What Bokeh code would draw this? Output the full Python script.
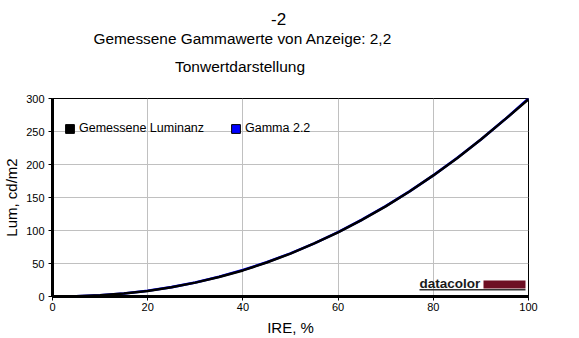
from bokeh.plotting import figure
from bokeh.models import (Range1d, Label, BoxAnnotation, Legend, LegendItem,
                          FixedTicker, ColumnDataSource, Title)
from bokeh.embed import file_html
from bokeh.resources import INLINE

# ---- data ----
ire = [0, 5, 10, 15, 20, 25, 30, 35, 40, 45, 50, 55, 60, 65, 70, 75, 80, 85, 90, 95, 100]
gemessene_luminanz = [0.0, 0.5, 1.9, 4.5, 8.5, 14.0, 21.0, 29.5, 39.5, 51.5, 65.0,
                      80.5, 97.0, 116.0, 136.5, 159.0, 183.5, 209.5, 238.0, 268.0, 299.0]
gamma_22 = [0.0, 0.4, 1.9, 4.6, 8.7, 14.2, 21.2, 29.8, 40.0, 51.8, 65.3,
            80.5, 97.5, 116.3, 136.9, 159.3, 183.6, 209.8, 237.9, 268.0, 300.0]
x_ticks = [0, 20, 40, 60, 80, 100]
y_ticks = [0, 50, 100, 150, 200, 250, 300]

title_main = "-2"
title_sub = "Gemessene Gammawerte von Anzeige: 2,2"
title_sub2 = "Tonwertdarstellung"
x_label = "IRE, %"
y_label = "Lum, cd/m2"
series_names = ["Gemessene Luminanz", "Gamma 2.2"]

FONT = "Liberation Sans"
NAN = float("nan")

p = figure(width=579, height=338, output_backend="svg", toolbar_location=None,
           x_range=Range1d(0, 100), y_range=Range1d(0, 300),
           min_border_left=52, min_border_right=51, min_border_top=98,
           min_border_bottom=41, background_fill_color="white",
           border_fill_color="white")

p.outline_line_color = "black"
p.outline_line_width = 1

for ax in (p.xaxis[0], p.yaxis[0]):
    ax.axis_line_width = 3
    ax.axis_line_color = "black"
    ax.major_tick_out = 4
    ax.major_tick_in = 0
    ax.minor_tick_out = 0
    ax.minor_tick_in = 0
    ax.major_tick_line_color = "black"
    ax.major_label_text_font = FONT
    ax.major_label_text_font_size = "11px"
    ax.major_label_text_color = "black"
    ax.axis_label_text_font = FONT
    ax.axis_label_text_font_size = "15px"
    ax.axis_label_text_font_style = "normal"
    ax.axis_label_text_color = "black"

p.xaxis[0].ticker = FixedTicker(ticks=x_ticks)
p.yaxis[0].ticker = FixedTicker(ticks=y_ticks)
p.xaxis[0].axis_label = x_label
p.yaxis[0].axis_label = y_label
p.xaxis[0].major_label_standoff = 2
p.yaxis[0].major_label_standoff = 4
p.xaxis[0].axis_label_standoff = 5
p.yaxis[0].axis_label_standoff = 3

p.xgrid.grid_line_color = "#c0c0c0"
p.ygrid.grid_line_color = "#c0c0c0"
p.xgrid.ticker = FixedTicker(ticks=x_ticks)
p.ygrid.ticker = FixedTicker(ticks=y_ticks)

src = ColumnDataSource(dict(x=ire, meas=gemessene_luminanz, gam=gamma_22))
p.line("x", "gam", source=src, line_color="#0000ff", line_width=2.6)
p.line("x", "meas", source=src, line_color="black", line_width=2.5)

# legend proxies (quads that draw nothing in the plot area)
def proxy(color):
    s = ColumnDataSource(dict(left=[NAN], right=[NAN], top=[NAN], bottom=[NAN]))
    return p.quad(source=s, left="left", right="right", top="top", bottom="bottom",
                  fill_color=color, line_color="black", line_width=1)

q1 = proxy("black")
q2 = proxy("#0000ff")

for item_r, name, loc in ((q1, series_names[0], (12, 161)), (q2, series_names[1], (178, 161))):
    lg = Legend(items=[LegendItem(label=name, renderers=[item_r])], location=loc,
                orientation="horizontal", padding=0, margin=0, spacing=0,
                glyph_width=11, glyph_height=11, label_standoff=4,
                label_height=11, label_text_font=FONT, label_text_font_size="12.5px",
                label_text_color="black", background_fill_alpha=0,
                border_line_alpha=0)
    p.add_layout(lg, "center")

# titles (first added is closest to the plot)
p.add_layout(Title(text=title_sub2, align="left", offset=122.5, standoff=47,
                   text_font=FONT, text_font_size="15.5px", text_font_style="normal",
                   text_color="black"), "above")
p.add_layout(Title(text=title_sub, align="left", offset=41, standoff=-29.3,
                   text_font=FONT, text_font_size="15.4px", text_font_style="normal",
                   text_color="black"), "above")
p.add_layout(Title(text=title_main, align="left", offset=218.5, standoff=15.3,
                   text_font=FONT, text_font_size="17px", text_font_style="normal",
                   text_color="black"), "above")

# datacolor logo
p.add_layout(Label(x=367, y=13, x_units="screen", y_units="screen", text="datacolor",
                   text_font=FONT, text_font_size="13.5px", text_font_style="bold",
                   text_align="left", text_baseline="alphabetic", text_color="#1a1a1a"))
p.add_layout(BoxAnnotation(left=431, right=473, bottom=8, top=16,
                           left_units="screen", right_units="screen",
                           bottom_units="screen", top_units="screen",
                           fill_color="#6d0f24", fill_alpha=1, line_alpha=0))
p.add_layout(BoxAnnotation(left=367, right=473, bottom=6, top=7.5,
                           left_units="screen", right_units="screen",
                           bottom_units="screen", top_units="screen",
                           fill_color="#333333", fill_alpha=1, line_alpha=0))

open("out.html", "w").write(file_html(p, INLINE))
